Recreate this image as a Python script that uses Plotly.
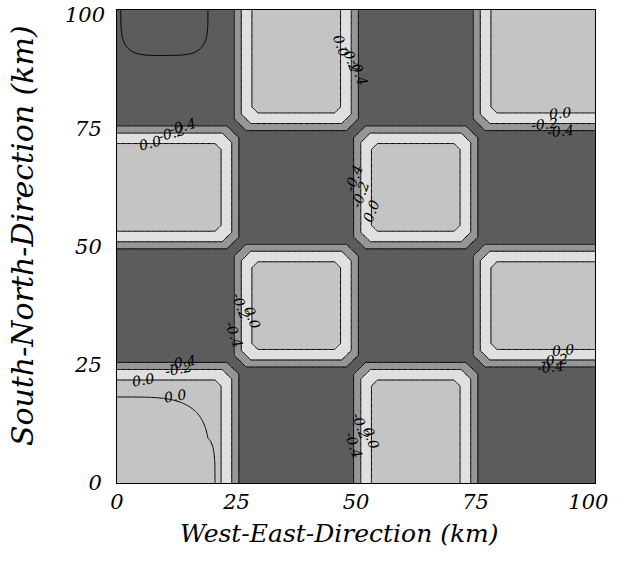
import numpy as np
import plotly.graph_objects as go

# ---------------- data ----------------
# surface tiles (row 0 = south), 1 = light tile, 0 = dark tile
tile_pattern = [[1, 0, 1, 0],
                [0, 1, 0, 1],
                [1, 0, 1, 0],
                [0, 1, 0, 1]]
tile_size_km = 25.0
domain_km = 100.0
grid_step_km = 0.25

# field value across a light/dark boundary (km into the light tile -> value)
profile_km = [-50.0, -3.0, -0.5, 1.0, 3.2, 6.0, 50.0]
profile_val = [-0.50, -0.48, -0.40, -0.20, 0.00, 0.08, 0.10]

# corner cut of the light tiles
corner_slope = 0.6
corner_offset_km = 1.4

# local anomalies (super-ellipse, exponent 4)
anomaly_x = [10.0, 0.0]
anomaly_y = [100.0, 0.0]
anomaly_rx = [11.3, 21.34]
anomaly_ry = [11.9, 20.04]
anomaly_amp = [-0.2, -0.25]
anomaly_power = 4

contour_start, contour_end, contour_step = -0.6, 0.0, 0.2

# grey shading across the boundary
shade_km = [-50.0, -0.6, -0.4, 0.9, 1.1, 3.1, 3.3, 50.0]
shade_gray = [92, 92, 150, 150, 224, 224, 196, 196]

tick_vals = [0, 25, 50, 75, 100]
x_tick_text = ["0", "25", "50", "75", "100\u00a0\u00a0"]
y_tick_text = ["0", "25", "50", "75", ""]
y_top_label = "100"
x_title = "West-East-Direction (km)"
y_title = "South-North-Direction (km)"

# contour labels: text, x, y, angle
label_text = ["0.0", "-0.2", "-0.4",
              "-0.4", "-0.2", "0.0",
              "-0.4", "-0.2", "0.0",
              "-0.4", "-0.2", "0.0",
              "-0.4", "-0.2", "0.0",
              "-0.4", "-0.2", "0.0", "0.0",
              "0.0", "-0.2", "-0.4",
              "0.0", "-0.2", "-0.4"]
label_x = [46.8, 49.0, 50.5,
           49.5, 51.0, 53.2,
           24.5, 26.0, 28.2,
           49.5, 51.0, 53.2,
           13.8, 11.5, 6.9,
           13.8, 12.8, 5.4, 12.1,
           92.7, 89.5, 92.7,
           93.3, 91.6, 90.6]
label_y = [92.5, 89.7, 86.8,
           64.5, 61.0, 57.5,
           31.5, 37.5, 35.0,
           8.0, 12.0, 9.5,
           75.5, 74.0, 71.8,
           25.5, 24.0, 21.8, 18.4,
           78.2, 76.0, 74.5,
           28.2, 26.0, 24.5]
label_angle = [70, 70, 70,
               -70, -70, -70,
               70, 70, 70,
               70, 70, 70,
               -15, -15, -15,
               -10, -10, -10, -10,
               -5, -5, -5,
               -5, -5, -5]

# ---------------- field ----------------
n = int(round(domain_km / grid_step_km)) + 1
xs = np.linspace(0.0, domain_km, n)
ys = np.linspace(0.0, domain_km, n)
X, Y = np.meshgrid(xs, ys)
ntile = len(tile_pattern)

E = np.full(X.shape, -np.inf)
for j in range(ntile):
    for i in range(ntile):
        if tile_pattern[j][i] != 1:
            continue
        x0 = -np.inf if i == 0 else i * tile_size_km
        x1 = np.inf if i == ntile - 1 else (i + 1) * tile_size_km
        y0 = -np.inf if j == 0 else j * tile_size_km
        y1 = np.inf if j == ntile - 1 else (j + 1) * tile_size_km
        dx = np.minimum(X - x0, x1 - X)
        dy = np.minimum(Y - y0, y1 - Y)
        with np.errstate(invalid="ignore"):
            diag = corner_slope * (dx + dy) - corner_offset_km
        e = np.minimum(np.minimum(dx, dy), diag)
        E = np.maximum(E, e)

Z = np.interp(E, profile_km, profile_val)
for ax_, ay_, rx_, ry_, amp_ in zip(anomaly_x, anomaly_y, anomaly_rx, anomaly_ry, anomaly_amp):
    r = np.abs((X - ax_) / rx_) ** anomaly_power + np.abs((Y - ay_) / ry_) ** anomaly_power
    Z = Z + amp_ * np.clip(1.0 - r, 0.0, None)

S = np.interp(E, shade_km, shade_gray)

# ---------------- figure ----------------
fig = go.Figure()
fig.add_trace(go.Heatmap(
    x=xs, y=ys, z=S, zmin=0, zmax=255,
    colorscale=[[0, "rgb(0,0,0)"], [1, "rgb(255,255,255)"]],
    showscale=False, hoverinfo="skip"))
fig.add_trace(go.Contour(
    x=xs, y=ys, z=Z,
    contours=dict(start=contour_start, end=contour_end, size=contour_step,
                  coloring="lines", showlabels=False),
    colorscale=[[0, "black"], [1, "black"]],
    line=dict(width=1), showscale=False, hoverinfo="skip"))

font_family = "DejaVu Serif"
for t, lx, ly, la in zip(label_text, label_x, label_y, label_angle):
    fig.add_annotation(x=lx, y=ly, text=t, textangle=la, showarrow=False,
                       font=dict(family=font_family, size=14, color="black", style="italic"))

tick_font = dict(family=font_family, size=21, color="black", style="italic")

# top y tick label, set slightly below the frame corner as in the original
fig.add_annotation(xref="paper", yref="y", x=0, y=domain_km, xshift=-10, yshift=-5,
                   xanchor="right", yanchor="middle", showarrow=False,
                   text=y_top_label, font=tick_font)

# axis titles
fig.add_annotation(xref="paper", yref="paper", x=0.4655, y=0, yshift=-50,
                   xanchor="center", yanchor="middle", showarrow=False, text=x_title,
                   font=dict(family=font_family, size=25, color="black", style="italic"))
fig.add_annotation(xref="paper", yref="paper", x=-0.1987, y=0.522, textangle=-90,
                   xanchor="center", yanchor="middle", showarrow=False, text=y_title,
                   font=dict(family=font_family, size=30, color="black", style="italic"))

axis_common = dict(
    range=[0, domain_km], tickvals=tick_vals, automargin=False,
    showline=True, linecolor="black", linewidth=1, mirror=True,
    ticks="", showgrid=False, zeroline=False, ticklabeloverflow="allow",
    tickfont=tick_font,
)
fig.update_xaxes(**axis_common, ticktext=x_tick_text, ticklabelstandoff=0)
fig.update_yaxes(**axis_common, ticktext=y_tick_text, ticklabelstandoff=10)
fig.update_layout(
    width=622, height=562,
    margin=dict(l=117, r=27, t=10, b=79),
    paper_bgcolor="white", plot_bgcolor="white",
    showlegend=False,
)
# remove the default page margin so the figure fills the window exactly
fig.write_html("out.html", config={"displayModeBar": False},
               post_script="document.body.style.margin='0px';")
